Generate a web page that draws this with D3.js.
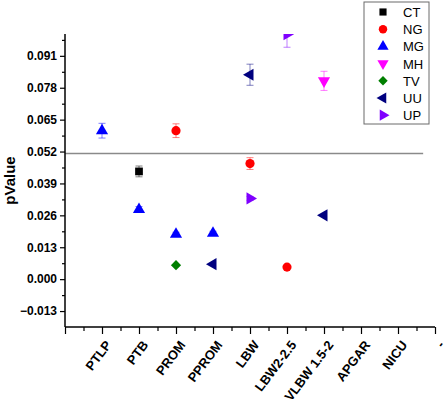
<!DOCTYPE html>
<html>
<head>
<meta charset="utf-8">
<script src="https://cdn.jsdelivr.net/npm/d3@7"></script>
<style>
  body { margin: 0; background: #fff; }
  svg { display: block; font-family: "Liberation Sans", Arial, sans-serif; }
</style>
</head>
<body>
<div id="chart"></div>
<script>
// categories on the x axis (positions 1..10)
var categories = ["PTLP", "PTB", "PROM", "PPROM", "LBW", "LBW2-2.5", "VLBW 1.5-2", "APGAR", "NICU", "-"];
var seriesNames = ["CT", "NG", "MG", "MH", "TV", "UU", "UP"];
var seriesColors = ["#000000", "#ff0000", "#0000ff", "#ff00ff", "#007f00", "#00007f", "#7f00ff"];
var yTicks = [-0.013, 0, 0.013, 0.026, 0.039, 0.052, 0.065, 0.078, 0.091];
var refValue = 0.0512;

// [category, pValue, error]
var ctPoints = [["PTB", 0.0439, 0.0022]];
var ngPoints = [["PROM", 0.0605, 0.0028], ["LBW", 0.0471, 0.0024], ["LBW2-2.5", 0.0049, 0]];
var mgPoints = [["PTLP", 0.0605, 0.003], ["PTB", 0.0284, 0.0012], ["PROM", 0.0183, 0.0008], ["PPROM", 0.0187, 0.0008]];
var mhPoints = [["VLBW 1.5-2", 0.0808, 0.0039]];
var tvPoints = [["PROM", 0.0057, 0]];
var uuPoints = [["LBW", 0.0833, 0.0043], ["PPROM", 0.0061, 0], ["VLBW 1.5-2", 0.026, 0]];
var upPoints = [["LBW2-2.5", 0.0998, 0.0053], ["LBW", 0.0329, 0.0008]];

var allPoints = [ctPoints, ngPoints, mgPoints, mhPoints, tvPoints, uuPoints, upPoints];

var W = 447, H = 399;
var mLeft = 65, mRight = 435, mTop = 34, mBottom = 327;

var svg = d3.select("#chart").append("svg").attr("width", W).attr("height", H);

var x = d3.scaleLinear().domain([0, 10]).range([mLeft, mRight]);
var y = d3.scaleLinear().domain([-0.0195, 0.0999]).range([mBottom, mTop]);

// symbols: square, circle, up, down, diamond, left, right
var shapes = [
  {type: d3.symbolSquare, size: 60, rot: 0},
  {type: d3.symbolCircle, size: 66, rot: 0},
  {type: d3.symbolTriangle, size: 64, rot: 0},
  {type: d3.symbolTriangle, size: 64, rot: 180},
  {type: d3.symbolSquare, size: 52, rot: 45},
  {type: d3.symbolTriangle, size: 64, rot: -90},
  {type: d3.symbolTriangle, size: 64, rot: 90}
];

svg.append("clipPath").attr("id", "plot").append("rect")
  .attr("x", mLeft).attr("y", mTop).attr("width", mRight - mLeft).attr("height", mBottom - mTop);

// reference line
svg.append("line")
  .attr("x1", x(0)).attr("x2", x(9.68))
  .attr("y1", y(refValue)).attr("y2", y(refValue))
  .attr("stroke", "#8a8a8a").attr("stroke-width", 1.3);

// y axis (major + minor ticks)
var yMinor = yTicks.map(function(d) { return d + 0.0065; }).filter(function(d) { return d < 0.0999; });
var gy = svg.append("g").attr("transform", "translate(" + mLeft + ",0)");
gy.append("g").call(d3.axisLeft(y).tickValues(yMinor).tickFormat("").tickSize(3));
gy.append("g").call(d3.axisLeft(y).tickValues(yTicks).tickFormat(d3.format(".3f")).tickSize(5).tickPadding(3));
gy.selectAll(".domain").remove();
gy.append("line").attr("x1", 0).attr("x2", 0).attr("y1", mTop).attr("y2", mBottom).attr("stroke", "#000").attr("stroke-width", 1.5);
gy.selectAll("text").attr("font-size", 12).attr("font-weight", "bold").attr("fill", "#000")
  .attr("font-family", "'Liberation Sans', Arial, sans-serif");
gy.selectAll(".tick line").attr("stroke-width", 1.2);

// x axis
var gx = svg.append("g").attr("transform", "translate(0," + mBottom + ")");
gx.append("g").call(d3.axisBottom(x).tickValues(d3.range(0.5, 10, 1)).tickFormat("").tickSize(4));
gx.append("g").call(d3.axisBottom(x).tickValues(d3.range(0, 11, 1)).tickFormat("").tickSize(7));
gx.selectAll(".domain").remove();
gx.append("line").attr("x1", mLeft).attr("x2", mRight).attr("y1", 0).attr("y2", 0).attr("stroke", "#000").attr("stroke-width", 1.5);
gx.selectAll(".tick line").attr("stroke-width", 1.2);
gx.selectAll("text.cat").data(categories).enter().append("text")
  .attr("class", "cat")
  .attr("transform", function(d, i) { return "translate(" + (x(i + 1) + 10) + ",18) rotate(-53)"; })
  .attr("text-anchor", "end")
  .attr("font-size", 13).attr("font-weight", "bold").attr("fill", "#000")
  .text(function(d) { return d; });

// y label
svg.append("text")
  .attr("transform", "translate(15," + ((mTop + mBottom) / 2) + ") rotate(-90)")
  .attr("text-anchor", "middle")
  .attr("font-size", 15).attr("font-weight", "bold")
  .text("pValue");

// points with error bars
var plot = svg.append("g").attr("clip-path", "url(#plot)");
allPoints.forEach(function(pts, s) {
  var g = plot.append("g");
  var col = seriesColors[s];
  pts.forEach(function(p) {
    var cx = x(categories.indexOf(p[0]) + 1), cy = y(p[1]);
    if (p[2] > 0) {
      var y0 = y(p[1] - p[2]), y1 = y(p[1] + p[2]);
      var eb = g.append("g").attr("stroke", col).attr("stroke-opacity", 0.5).attr("stroke-width", 1);
      eb.append("line").attr("x1", cx).attr("x2", cx).attr("y1", y0).attr("y2", y1);
      eb.append("line").attr("x1", cx - 3.5).attr("x2", cx + 3.5).attr("y1", y0).attr("y2", y0);
      eb.append("line").attr("x1", cx - 3.5).attr("x2", cx + 3.5).attr("y1", y1).attr("y2", y1);
    }
    var sh = shapes[s];
    g.append("path")
      .attr("d", d3.symbol().type(sh.type).size(sh.size)())
      .attr("transform", "translate(" + cx + "," + cy + ") rotate(" + sh.rot + ")")
      .attr("fill", col);
  });
});

// legend
var lg = svg.append("g").attr("transform", "translate(364,2)");
lg.append("rect").attr("width", 65).attr("height", 122)
  .attr("fill", "#fff").attr("stroke", "#6a6a6a").attr("stroke-width", 1);
seriesNames.forEach(function(name, i) {
  var ly = 10 + i * 17.2;
  var sh = shapes[i];
  lg.append("path")
    .attr("d", d3.symbol().type(sh.type).size(sh.size * 0.85)())
    .attr("transform", "translate(19," + ly + ") rotate(" + sh.rot + ")")
    .attr("fill", seriesColors[i]);
  lg.append("text").attr("x", 39).attr("y", ly + 5)
    .attr("font-size", 13).text(name);
});
</script>
</body>
</html>
